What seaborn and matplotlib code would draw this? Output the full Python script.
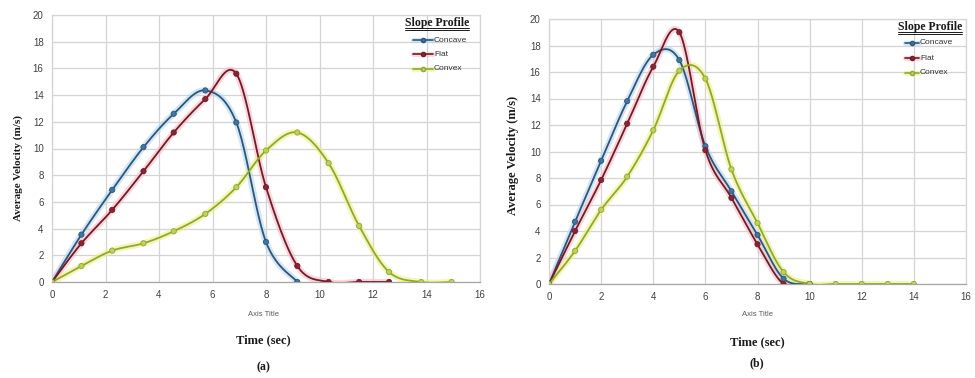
import numpy as np
import pandas as pd
import matplotlib
matplotlib.use("Agg")
import matplotlib.pyplot as plt
from matplotlib.lines import Line2D
import seaborn as sns

# ---------------- data ----------------
profiles = ["Concave", "Flat", "Convex"]

# panel (a)
x_a = [0, 1.10, 2.25, 3.42, 4.55, 5.73, 6.89, 8.00, 9.17, 10.34, 11.48, 12.60, 13.80, 14.94]
concave_a = [0, 3.55, 6.9, 10.1, 12.6, 14.35, 11.95, 3.0, 0.0]
flat_a = [0, 2.9, 5.4, 8.3, 11.2, 13.7, 15.6, 7.1, 1.2, 0.0, 0.0, 0.0]
convex_a = [0, 1.2, 2.35, 2.9, 3.8, 5.1, 7.1, 9.85, 11.2, 8.9, 4.2, 0.75, 0.0, 0.0]

# panel (b)
x_b = [0, 1, 2, 3, 4, 5, 6, 7, 8, 9, 10, 11, 12, 13, 14]
concave_b = [0, 4.7, 9.3, 13.8, 17.3, 16.9, 10.4, 7.0, 3.7, 0.4, 0.0]
flat_b = [0, 4.0, 7.85, 12.1, 16.4, 19.0, 10.1, 6.5, 3.0, 0.0, 0.0]
convex_b = [0, 2.5, 5.6, 8.1, 11.6, 16.1, 15.5, 8.65, 4.6, 0.9, 0.0, 0.0, 0.0, 0.0, 0.0]

x_ticks = [0, 2, 4, 6, 8, 10, 12, 14, 16]
y_ticks = [0, 2, 4, 6, 8, 10, 12, 14, 16, 18, 20]

# ---------------- styles ----------------
line_col = {"Concave": "#2d5677", "Flat": "#701c28", "Convex": "#8fa63a"}
mark_col = {"Concave": "#3e74a6", "Flat": "#8e2233", "Convex": "#bcd25a"}
glow_col = {"Concave": "#b4d6f2", "Flat": "#f6bcc6", "Convex": "#eef27a"}

sns.set_theme(style="white")
plt.rcParams["font.family"] = ["Liberation Sans", "DejaVu Sans"]

W, H = 975, 378
fig = plt.figure(figsize=(W / 100, H / 100), dpi=100)


def px_box(l, r, t, b):
    return [l / W, 1 - b / H, (r - l) / W, (b - t) / H]


def smooth(xs, ys, n=24):
    """Excel-style smoothed line (Catmull-Rom Bezier, tension 1/6)."""
    P = np.column_stack([xs, ys]).astype(float)
    m = len(P)
    out = [P[0]]
    for i in range(m - 1):
        p0 = P[i - 1] if i > 0 else P[i]
        p1 = P[i]
        p2 = P[i + 1]
        p3 = P[i + 2] if i + 2 < m else P[i + 1]
        c1 = p1 + (p2 - p0) / 6
        c2 = p2 - (p3 - p1) / 6
        t = np.linspace(0, 1, n)[1:, None]
        seg = ((1 - t) ** 3) * p1 + 3 * ((1 - t) ** 2) * t * c1 + 3 * (1 - t) * t ** 2 * c2 + t ** 3 * p2
        out.extend(seg)
    out = np.array(out)
    return out[:, 0], out[:, 1]


def draw_panel(ax, xs, series, ylabel_xy, ylabel_size, legend_px, legend_size, axis_title_xy,
               time_xy, tag_xy, tag):
    curves = []
    points = []
    for name, ys in zip(profiles, series):
        xx = xs[:len(ys)]
        sx, sy = smooth(xx, ys)
        curves.append(pd.DataFrame({"x": sx, "y": sy, "profile": name}))
        points.append(pd.DataFrame({"x": xx, "y": ys, "profile": name}))
    cdf = pd.concat(curves, ignore_index=True)
    pdf = pd.concat(points, ignore_index=True)

    # glow
    sns.lineplot(data=cdf, x="x", y="y", hue="profile", units="profile", estimator=None, sort=False,
                 palette=glow_col, linewidth=4.5, alpha=0.6, legend=False, ax=ax, zorder=2)
    sns.lineplot(data=cdf, x="x", y="y", hue="profile", units="profile", estimator=None, sort=False,
                 palette=line_col, linewidth=1.3, legend=False, ax=ax, zorder=3)
    sns.scatterplot(data=pdf, x="x", y="y", hue="profile", palette=mark_col, s=14,
                    edgecolor=[line_col[p] for p in pdf["profile"]], linewidth=0.6,
                    legend=False, ax=ax, zorder=4)

    ax.set_xlim(0, 16)
    ax.set_ylim(0, 20)
    ax.set_xticks(x_ticks)
    ax.set_yticks(y_ticks)
    ax.set_xticklabels([str(v) for v in x_ticks])
    ax.set_yticklabels([str(v) for v in y_ticks])
    ax.tick_params(axis="both", length=0, labelsize=7, labelcolor="#404040", pad=6)
    ax.grid(True, color="#d4d4d4", linewidth=0.9)
    ax.set_axisbelow(True)
    for side, sp in ax.spines.items():
        sp.set_color("#d4d4d4")
        sp.set_linewidth(0.9)
    ax.spines["bottom"].set_color("#a6a6a6")
    ax.set_xlabel("")
    ax.set_ylabel("")

    fig.text(ylabel_xy[0] / W, 1 - ylabel_xy[1] / H, "Average Velocity (m/s)", rotation=90,
             ha="center", va="center", fontsize=ylabel_size, fontweight="bold",
             family="Liberation Serif", color="#1a1a1a")
    fig.text(axis_title_xy[0] / W, 1 - axis_title_xy[1] / H, "Axis Title", ha="center", va="center",
             fontsize=5.5, color="#595959")
    fig.text(time_xy[0] / W, 1 - time_xy[1] / H, "Time (sec)", ha="center", va="center",
             fontsize=9, fontweight="bold", family="Liberation Serif", color="#1a1a1a")
    fig.text(tag_xy[0] / W, 1 - tag_xy[1] / H, tag, ha="center", va="center",
             fontsize=8.5, fontweight="bold", family="Liberation Serif", color="#1a1a1a")

    # legend
    lx_title, ly_title, lx_h0, lx_h1, ys_entries = legend_px
    ttl = fig.text(lx_title / W, 1 - ly_title / H, "Slope Profile", ha="left", va="center",
                   fontsize=legend_size, fontweight="bold", family="Liberation Serif", color="#1a1a1a")
    for name, ye in zip(profiles, ys_entries):
        fig.add_artist(Line2D([lx_h0 / W, lx_h1 / W], [1 - ye / H, 1 - ye / H], color=glow_col[name],
                              lw=3.5, alpha=0.6))
        fig.add_artist(Line2D([lx_h0 / W, lx_h1 / W], [1 - ye / H, 1 - ye / H], color=line_col[name],
                              lw=1.2))
        fig.add_artist(Line2D([(lx_h0 + lx_h1) / 2 / W], [1 - ye / H], marker="o", markersize=3,
                              markerfacecolor=mark_col[name], markeredgecolor=line_col[name], lw=0))
        fig.text((lx_h1 + 1) / W, 1 - ye / H, name, ha="left", va="center", fontsize=6,
                 color="#333333")
    return ttl


ax_a = fig.add_axes(px_box(52, 480, 15, 282))
ax_b = fig.add_axes(px_box(549, 966, 19, 284))

t_a = draw_panel(ax_a, x_a, [concave_a, flat_a, convex_a], (18, 168), 8,
                 (405, 23, 413, 433, [40, 54, 69]), 8.5, (263, 314), (263, 340), (263, 367), "(a)")
t_b = draw_panel(ax_b, x_b, [concave_b, flat_b, convex_b], (513, 155), 9,
                 (898, 27, 905, 919, [43, 58, 73]), 8.5, (757, 315), (757, 342), (757, 363), "(b)")

# underline the legend titles
fig.canvas.draw()
r = fig.canvas.get_renderer()
for t in (t_a, t_b):
    bb = t.get_window_extent(renderer=r).transformed(fig.transFigure.inverted())
    for off in (0.004, 0.0085):
        fig.add_artist(Line2D([bb.x0, bb.x1], [bb.y0 - off + 0.006, bb.y0 - off + 0.006],
                              color="#1a1a1a", lw=0.7))

fig.savefig("out.png", dpi=100, facecolor="white")
